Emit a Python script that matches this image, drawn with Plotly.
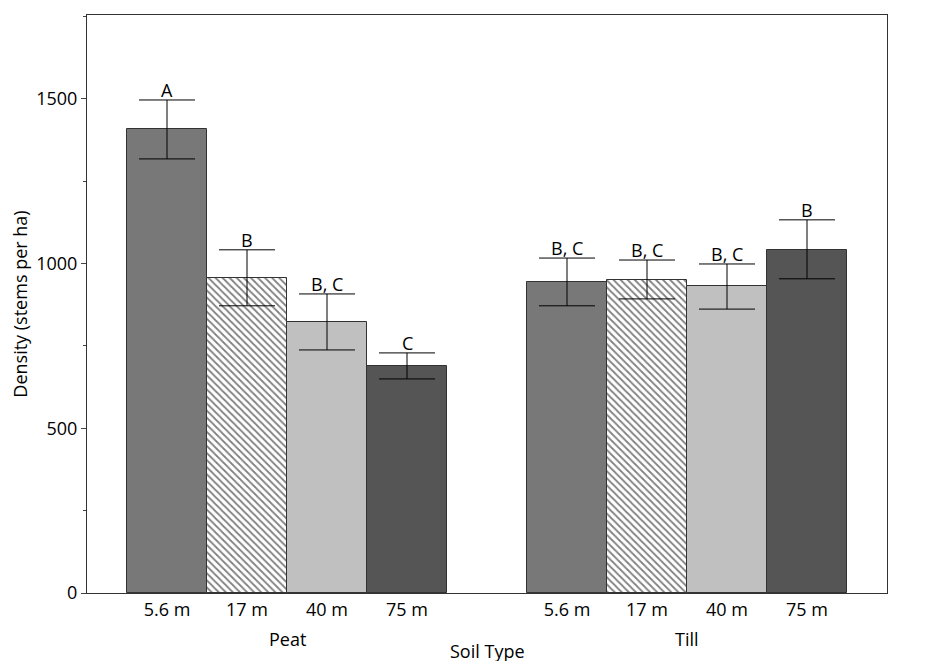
import plotly.graph_objects as go

soils = ["Peat", "Till"]
distances = ["5.6 m", "17 m", "40 m", "75 m"]
peat_vals = [1409, 957, 823, 689]
peat_err_hi = [88, 85, 85, 40]
peat_err_lo = [91, 85, 85, 39]
till_vals = [944, 950, 932, 1042]
till_err_hi = [73, 61, 67, 91]
till_err_lo = [72, 57, 70, 88]
peat_letters = ["A", "B", "B, C", "C"]
till_letters = ["B, C", "B, C", "B, C", "B"]
yticks = [0, 500, 1000, 1500]

colors = ["#787878", "white", "#c0c0c0", "#555555"]
patterns = ["", "\\", "", ""]
peat_x = [1, 2, 3, 4]
till_x = [6, 7, 8, 9]

fig = go.Figure()
for i, d in enumerate(distances):
    fig.add_trace(go.Bar(
        x=[peat_x[i], till_x[i]], y=[peat_vals[i], till_vals[i]], width=1,
        marker=dict(color=colors[i], line=dict(color="#333", width=1),
                    pattern=dict(shape=patterns[i], fgcolor="black", bgcolor="white", size=5, solidity=0.35)),
        error_y=dict(type="data", symmetric=False,
                     array=[peat_err_hi[i], till_err_hi[i]],
                     arrayminus=[peat_err_lo[i], till_err_lo[i]],
                     color="black", thickness=1, width=28),
        showlegend=False, name=d))

ann = []
for xs, vals, hi, lets in [(peat_x, peat_vals, peat_err_hi, peat_letters), (till_x, till_vals, till_err_hi, till_letters)]:
    for x, v, h, t in zip(xs, vals, hi, lets):
        ann.append(dict(x=x, y=v + h, text=t, showarrow=False, yanchor="bottom", yshift=-4,
                        font=dict(size=18, color="black")))
ann.append(dict(x=2.5, y=0, yref="y", text="Peat", showarrow=False, yshift=-46, font=dict(size=18)))
ann.append(dict(x=7.5, y=0, yref="y", text="Till", showarrow=False, yshift=-46, font=dict(size=18)))
ann.append(dict(x=5, y=0, text="Soil Type", showarrow=False, yshift=-58, font=dict(size=18)))

fig.update_layout(
    width=918, height=653, margin=dict(l=79, r=39, t=7, b=68),
    plot_bgcolor="white", paper_bgcolor="white", bargap=0,
    font=dict(family="Open Sans, DejaVu Sans", size=18, color="black"),
    annotations=ann,
    xaxis=dict(range=[0, 10], tickvals=peat_x + till_x, ticktext=distances + distances,
               tickfont=dict(size=18),
               showline=True, linecolor="#333", mirror=True, ticks="", showgrid=False, zeroline=False),
    yaxis=dict(range=[0, 1755], tickvals=yticks, ticks="outside", ticklen=5,
               tickfont=dict(size=18),
               minor=dict(tickvals=[250, 750, 1250, 1750], ticks="outside", ticklen=3),
               showline=True, linecolor="#333", mirror=True, showgrid=False, zeroline=False,
               title=dict(text="Density (stems per ha)", standoff=6, font=dict(size=18))),
)
fig.write_html("out.html")
